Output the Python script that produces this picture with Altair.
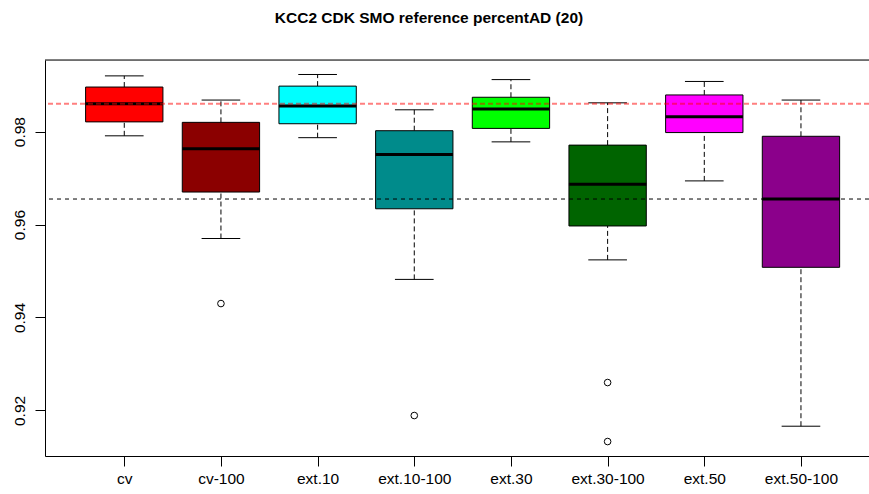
import altair as alt
import pandas as pd

# Groups and their box-plot statistics (percentAD)
groups = ["cv", "cv-100", "ext.10", "ext.10-100", "ext.30", "ext.30-100", "ext.50", "ext.50-100"]
whisker_low = [0.9791, 0.9570, 0.9787, 0.9482, 0.9778, 0.9524, 0.9694, 0.9166]
q1 = [0.9821, 0.9670, 0.9817, 0.9634, 0.9807, 0.9597, 0.9798, 0.9508]
median = [0.9860, 0.9763, 0.9855, 0.9751, 0.9849, 0.9687, 0.9832, 0.9655]
q3 = [0.9896, 0.9820, 0.9898, 0.9802, 0.9874, 0.9771, 0.9879, 0.9790]
whisker_high = [0.9920, 0.9868, 0.9923, 0.9847, 0.9912, 0.9862, 0.9908, 0.9868]
fills = ["#ff0000", "#8b0000", "#00ffff", "#008b8b", "#00ff00", "#006400", "#ff00ff", "#8b008b"]

# Outlying points: group and value
outlier_group = ["cv-100", "ext.10-100", "ext.30-100", "ext.30-100"]
outlier_value = [0.9430, 0.9189, 0.9260, 0.9133]

# Horizontal reference levels
ref_red = 0.9860
ref_black = 0.9655

title_text = "KCC2 CDK SMO reference percentAD (20)"

FONT = "Liberation Sans"
PLOT_W, PLOT_H = 824, 396
X_LO = 0.18
X_HI = X_LO + PLOT_W / 96.67
Y_DOMAIN = [0.91019, 0.99542]

stats = pd.DataFrame({
    "group": groups,
    "pos": list(range(1, len(groups) + 1)),
    "lo": whisker_low,
    "q1": q1,
    "med": median,
    "q3": q3,
    "hi": whisker_high,
    "fill": fills,
})
outliers = pd.DataFrame({
    "pos": [groups.index(g) + 1 for g in outlier_group],
    "value": outlier_value,
})
refs = pd.DataFrame({"level": [ref_red, ref_black], "kind": ["red", "black"]})

label_expr = "[" + ",".join(f"'{g}'" for g in groups) + "][datum.value - 1]"

x_axis = alt.Axis(
    values=list(range(1, len(groups) + 1)), labelExpr=label_expr, grid=False,
    tickSize=10, tickColor="black", domainColor="black", labelPadding=5,
    labelFont=FONT, labelFontSize=15.5, labelColor="black", labelAngle=0,
)
y_axis = alt.Axis(
    values=[0.92, 0.94, 0.96, 0.98], format=".2f", grid=False,
    tickSize=10, tickColor="black", domainColor="black",
    labelAngle=270, labelAlign="center", labelBaseline="alphabetic", labelPadding=11,
    labelFont=FONT, labelFontSize=15.5, labelColor="black",
)
x_scale = alt.Scale(domain=[X_LO, X_HI], nice=False, zero=False)
y_scale = alt.Scale(domain=Y_DOMAIN, nice=False, zero=False)

base = alt.Chart(stats).transform_calculate(
    left="datum.pos - 0.4", right="datum.pos + 0.4",
    sl="datum.pos - 0.2", sr="datum.pos + 0.2",
)

# axes carrier (invisible) so both axes are drawn once
axes = base.mark_point(opacity=0).encode(
    x=alt.X("pos:Q", scale=x_scale, axis=x_axis, title=None),
    y=alt.Y("med:Q", scale=y_scale, axis=y_axis, title=None),
)

whisk_low = base.mark_rule(color="black", strokeWidth=1, strokeDash=[5, 3]).encode(
    x=alt.X("pos:Q", scale=x_scale), y=alt.Y("lo:Q", scale=y_scale), y2="q1:Q")
whisk_high = base.mark_rule(color="black", strokeWidth=1, strokeDash=[5, 3]).encode(
    x=alt.X("pos:Q", scale=x_scale), y=alt.Y("q3:Q", scale=y_scale), y2="hi:Q")
staple_low = base.mark_rule(color="black", strokeWidth=1).encode(
    x=alt.X("sl:Q", scale=x_scale), x2="sr:Q", y=alt.Y("lo:Q", scale=y_scale))
staple_high = base.mark_rule(color="black", strokeWidth=1).encode(
    x=alt.X("sl:Q", scale=x_scale), x2="sr:Q", y=alt.Y("hi:Q", scale=y_scale))
boxes = base.mark_rect(stroke="black", strokeWidth=1).encode(
    x=alt.X("left:Q", scale=x_scale), x2="right:Q",
    y=alt.Y("q1:Q", scale=y_scale), y2="q3:Q",
    fill=alt.Fill("fill:N", scale=None),
)
medians = base.mark_rule(color="black", strokeWidth=3).encode(
    x=alt.X("left:Q", scale=x_scale), x2="right:Q", y=alt.Y("med:Q", scale=y_scale))

points = alt.Chart(outliers).mark_point(
    shape="circle", filled=False, color="black", strokeWidth=1, size=44, opacity=1
).encode(x=alt.X("pos:Q", scale=x_scale), y=alt.Y("value:Q", scale=y_scale))

red_line = alt.Chart(refs).transform_filter("datum.kind == 'red'").mark_rule(
    color="#ff0000", opacity=0.5, strokeWidth=2, strokeDash=[5, 3]
).encode(y=alt.Y("level:Q", scale=y_scale))
black_line = alt.Chart(refs).transform_filter("datum.kind == 'black'").mark_rule(
    color="black", strokeWidth=1, strokeDash=[4, 4]
).encode(y=alt.Y("level:Q", scale=y_scale))

top_frame = alt.Chart(refs).transform_filter("datum.kind == 'black'").mark_rule(
    color="black", strokeWidth=1
).encode(x=alt.value(0), x2=alt.value(PLOT_W), y=alt.value(0))

title = alt.Chart(pd.DataFrame({"t": [title_text]})).mark_text(
    font=FONT, fontSize=15.5, fontWeight="bold", color="black",
    align="center", baseline="alphabetic",
).encode(text="t:N", x=alt.value(384), y=alt.value(-37))

chart = alt.layer(
    axes, whisk_low, whisk_high, staple_low, staple_high, boxes, medians,
    points, red_line, black_line, top_frame, title,
).properties(
    width=PLOT_W, height=PLOT_H,
    autosize=alt.AutoSizeParams(type="none"),
    padding={"left": 45, "top": 60, "right": 0, "bottom": 38},
).configure_view(stroke=None).configure(background="white")

chart.save("out.html", embed_options={"renderer": "svg", "actions": False})
